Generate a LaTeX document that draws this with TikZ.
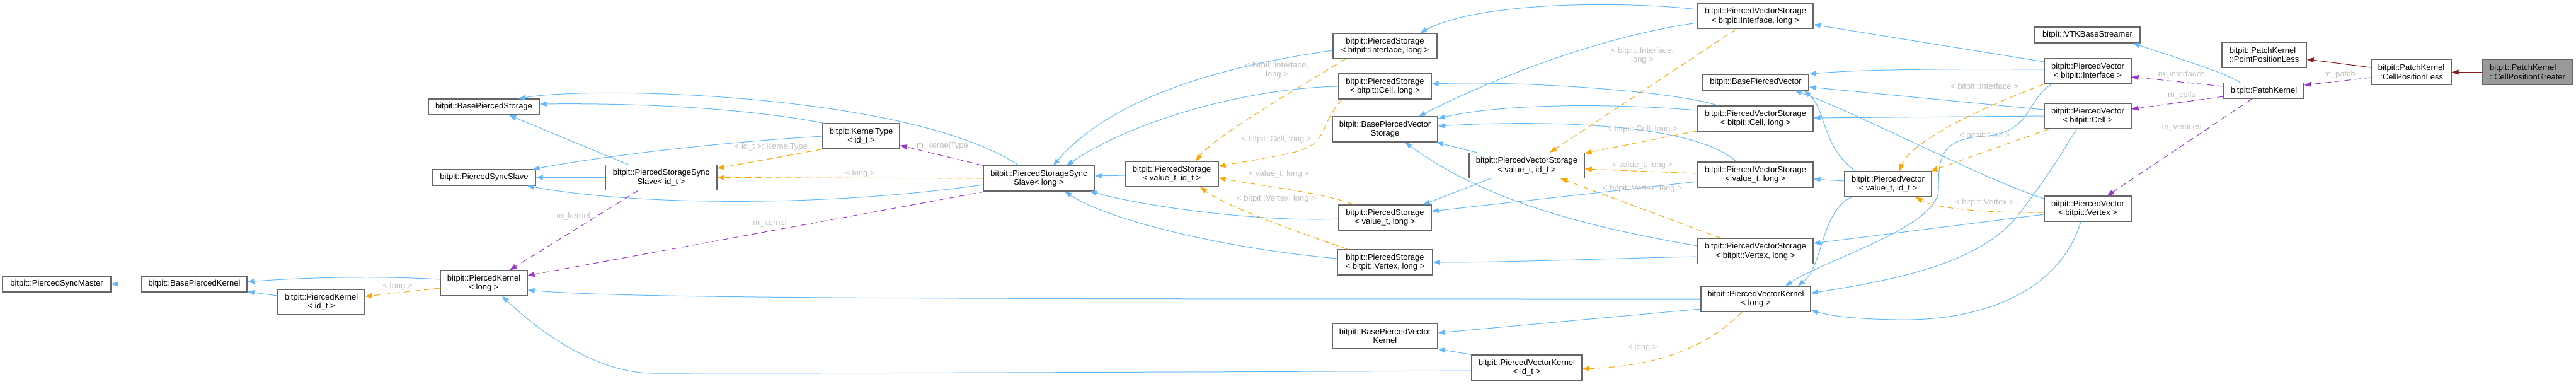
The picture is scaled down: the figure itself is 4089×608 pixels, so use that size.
\documentclass[tikz,border=0pt]{standalone}
\usepackage{fontspec}
\setmainfont{Liberation Sans}
\usetikzlibrary{arrows.meta,calc}

\definecolor{nodeborder}{HTML}{666666}
\definecolor{nodehilite}{HTML}{999999}
\definecolor{inherit}{HTML}{63B8FF}
\definecolor{templ}{HTML}{FFA500}
\definecolor{usage}{HTML}{9A32CD}
\definecolor{privinh}{HTML}{8B1A1A}
\definecolor{edgelabel}{HTML}{BEBEBE}

\tikzset{every picture/.style={line width=1pt},
  cls/.style={draw=nodeborder, fill=white, line width=1.2pt, inner sep=0pt,
    align=center, minimum height=25pt, font=\fontsize{13}{14.3}\selectfont},
  two/.style={minimum height=40pt},
  lbl/.style={inner sep=0pt, align=center, text=edgelabel, font=\fontsize{13}{14.3}\selectfont},
  tip/.style={-{Triangle[length=11pt,width=8pt]}},
  inh/.style={draw=inherit, tip},
  priv/.style={draw=privinh, tip},
  tmpl/.style={draw=templ, dash pattern=on 10pt off 6pt, tip},
  use/.style={draw=usage, dash pattern=on 10pt off 6pt, tip}}

\begin{document}
\begin{tikzpicture}[x=1pt,y=1pt,yscale=-1,xscale=1]
\useasboundingbox (0,0) rectangle (4089,608);

% kernels and sync classes
\node [cls, minimum width=172pt] (psm) at (90,450.5) {bitpit::PiercedSyncMaster};
\node [cls, minimum width=167pt] (bpk) at (308.5,450.5) {bitpit::BasePiercedKernel};
\node [cls, two, minimum width=138pt] (pkid) at (510,479) {bitpit::PiercedKernel\\< id\_t >};
\node [cls, minimum width=176pt] (bps) at (768,169.5) {bitpit::BasePiercedStorage};
\node [cls, minimum width=163pt] (pss) at (768.5,281.5) {bitpit::PiercedSyncSlave};
\node [cls, two, minimum width=138pt] (pkl) at (768,449) {bitpit::PiercedKernel\\< long >};
\node [cls, two, minimum width=177pt] (pssid) at (1049.5,281.5) {bitpit::PiercedStorageSync\\Slave< id\_t >};
\node [cls, two, minimum width=122pt] (kt) at (1367,216) {bitpit::KernelType\\< id\_t >};
\node [cls, two, minimum width=176pt] (pssl) at (1649,283) {bitpit::PiercedStorageSync\\Slave< long >};
\node [cls, two, minimum width=148pt] (psvid) at (1860,276) {bitpit::PiercedStorage\\< value\_t, id\_t >};

% storages
\node [cls, two, minimum width=165pt] (psi) at (2198.5,73) {bitpit::PiercedStorage\\< bitpit::Interface, long >};
\node [cls, two, minimum width=147pt] (psc) at (2198.5,137) {bitpit::PiercedStorage\\< bitpit::Cell, long >};
\node [cls, two, minimum width=167pt] (bpvs) at (2198.5,205) {bitpit::BasePiercedVector\\Storage};
\node [cls, two, minimum width=147pt] (psvl) at (2198.5,345) {bitpit::PiercedStorage\\< value\_t, long >};
\node [cls, two, minimum width=151pt] (psv) at (2198.5,416) {bitpit::PiercedStorage\\< bitpit::Vertex, long >};
\node [cls, two, minimum width=167pt] (bpvk) at (2198.5,533) {bitpit::BasePiercedVector\\Kernel};
\node [cls, two, minimum width=183pt] (pvsvid) at (2423.5,262.5) {bitpit::PiercedVectorStorage\\< value\_t, id\_t >};
\node [cls, two, minimum width=175pt] (pvkid) at (2423.5,583) {bitpit::PiercedVectorKernel\\< id\_t >};
\node [cls, two, minimum width=183pt] (pvsi) at (2786.5,25.5) {bitpit::PiercedVectorStorage\\< bitpit::Interface, long >};
\node [cls, minimum width=168pt] (bpv) at (2787,130.5) {bitpit::BasePiercedVector};
\node [cls, two, minimum width=183pt] (pvsc) at (2786.5,188) {bitpit::PiercedVectorStorage\\< bitpit::Cell, long >};
\node [cls, two, minimum width=183pt] (pvsvl) at (2786.5,277) {bitpit::PiercedVectorStorage\\< value\_t, long >};
\node [cls, two, minimum width=183pt] (pvsv) at (2786.5,398.5) {bitpit::PiercedVectorStorage\\< bitpit::Vertex, long >};
\node [cls, two, minimum width=174pt] (pvkl) at (2787,474) {bitpit::PiercedVectorKernel\\< long >};

% vectors and patch
\node [cls, two, minimum width=138pt] (pvvid) at (2997,292) {bitpit::PiercedVector\\< value\_t, id\_t >};
\node [cls, minimum width=167pt] (vtk) at (3313.5,55.5) {bitpit::VTKBaseStreamer};
\node [cls, two, minimum width=138pt] (pvi) at (3314,113) {bitpit::PiercedVector\\< bitpit::Interface >};
\node [cls, two, minimum width=138pt] (pvc) at (3314,184) {bitpit::PiercedVector\\< bitpit::Cell >};
\node [cls, two, minimum width=138pt] (pvv) at (3314,331) {bitpit::PiercedVector\\< bitpit::Vertex >};
\node [cls, two, align=left, minimum width=134pt] (ppl) at (3594,87) {bitpit::PatchKernel\\::PointPositionLess};
\node [cls, minimum width=127pt] (pk) at (3593.5,144) {bitpit::PatchKernel};
\node [cls, two, align=left, minimum width=127pt] (cpl) at (3827.5,114.5) {bitpit::PatchKernel\\::CellPositionLess};
\node [cls, two, align=left, fill=nodehilite, minimum width=144pt] (cpg) at (4012,114.5) {bitpit::PatchKernel\\::CellPositionGreater};

% inheritance
\draw [inh] (bpk.west) -- (psm.east);
\draw [inh] ($(pkid.west)+(0,-10)$) -- ($(bpk.south east)+(0,-1)$);
\draw [inh] ($(pkl.west)+(0,-6)$) .. controls (600,437) and (480,440) .. ($(bpk.east)+(0,-3.5)$);
\draw [inh] ($(pssl.north)+(-32,0)$) .. controls (1450,150) and (950,135) .. ($(bps.north)+(55,0)$);
\draw [inh] ($(kt.north west)+(3,0)$) .. controls (1200,175) and (1050,163) .. ($(bps.east)+(0,-4.5)$);
\draw [inh] ($(pssid.north)+(-52.5,0)$) -- ($(bps.south)+(40,0)$);
\draw [inh] (kt.west) .. controls (1200,222) and (1000,240) .. ($(pss.north east)+(-5,0)$);
\draw [inh] (pssid.west) -- (pss.east);
\draw [inh] ($(pssl.west)+(0,10)$) .. controls (1300,330) and (1000,325) .. ($(pss.south east)+(-14,0)$);
\draw [inh] ($(psvid.west)+(0,2)$) -- ($(pssl.east)+(0,-4)$);
\draw [inh] ($(psi.west)+(0,7)$) .. controls (1900,110) and (1750,170) .. ($(pssl.north)+(23,0)$);
\draw [inh] (psc.west) .. controls (1980,140) and (1800,190) .. ($(pssl.north)+(44,0)$);
\draw [inh] ($(psvl.west)+(0,2)$) .. controls (2030,352) and (1850,335) .. ($(pssl.south)+(81,0)$);
\draw [inh] ($(psv.west)+(0,-6)$) .. controls (1950,395) and (1760,350) .. ($(pssl.south)+(41,0)$);
\draw [inh] ($(pvsi.west)+(0,-10.5)$) .. controls (2560,0) and (2340,5) .. ($(psi.north)+(55.5,0)$);
\draw [inh] ($(pvsi.west)+(0,10.5)$) .. controls (2560,55) and (2400,110) .. ($(bpvs.north)+(53.5,0)$);
\draw [inh] ($(pvsc.north)+(-59.5,0)$) .. controls (2660,145) and (2420,128) .. ($(psc.east)+(0,-4)$);
\draw [inh] ($(pvsc.west)+(0,-13)$) .. controls (2550,163) and (2380,165) .. ($(bpvs.east)+(0,-17)$);
\draw [inh] ($(pvsvl.north)+(-30.5,0)$) .. controls (2690,195) and (2450,190) .. ($(bpvs.east)+(0,-5)$);
\draw [inh] ($(pvsvid.north)+(-79.5,0)$) -- ($(bpvs.south east)+(-3,0)$);
\draw [inh] ($(pvsv.west)+(0,-8.5)$) .. controls (2520,360) and (2360,320) .. ($(bpvs.south)+(31.5,0)$);
\draw [inh] ($(pvsvid.south)+(-57.5,0)$) -- ($(psvl.north)+(60.5,0)$);
\draw [inh] ($(pvsvl.west)+(0,11)$) -- ($(psvl.east)+(0,-10)$);
\draw [inh] ($(pvsv.west)+(0,8.5)$) .. controls (2550,410) and (2400,416) .. (psv.east);
\draw [inh] ($(pvi.west)+(0,-15)$) -- ($(pvsi.east)+(0,13.5)$);
\draw [inh] ($(pvi.west)+(0,-3)$) .. controls (3100,109) and (2950,110) .. (bpv.north east);
\draw [inh] ($(pvc.west)+(0,-10)$) -- ($(bpv.east)+(0,7.5)$);
\draw [inh] (pvc.west) -- ($(pvsc.east)+(0,-1)$);
\draw [inh] ($(pvvid.north)+(-52,0)$) .. controls (2890,230) and (2900,175) .. ($(bpv.south east)+(-8,0)$);
\draw [inh] ($(pvvid.west)+(0,-5)$) -- ($(pvsvl.east)+(0,7)$);
\draw [inh] ($(pvv.west)+(0,-16)$) .. controls (3150,285) and (2950,180) .. ($(bpv.south)+(62,0)$);
\draw [inh] ($(pvv.west)+(0,9)$) -- ($(pvsv.east)+(0,-12.5)$);
\draw [inh] ($(pvi.south)+(-58,0)$) .. controls (3215,160) and (3225,210) .. (3150,216) .. controls (3080,220) and (3077,250) .. (3077,300) .. controls (3077,360) and (2900,410) .. ($(pvkl.north)+(47,0)$);
\draw [inh] ($(pvvid.south)+(-58,0)$) .. controls (2890,335) and (2895,420) .. ($(pvkl.north)+(67,0)$);
\draw [inh] ($(pvc.south)+(-18,0)$) .. controls (3260,265) and (3235,300) .. (3202,343) .. controls (3140,420) and (3000,445) .. ($(pvkl.east)+(0,-9)$);
\draw [inh] ($(pvv.south)+(-11,0)$) .. controls (3270,460) and (3150,510) .. (3010,507) .. controls (2950,506) and (2910,502) .. ($(pvkl.east)+(0,18)$);
\draw [inh] (pvkl.west) .. controls (1500,474) and (1000,474) .. ($(pkl.east)+(0,11)$);
\draw [inh] ($(pvkl.west)+(0,16)$) -- ($(bpvk.east)+(0,-5)$);
\draw [inh] (pvkid.north west) -- (bpvk.south east);
\draw [inh] ($(pvkid.west)+(0,5)$) .. controls (1500,592) and (1150,592) .. (1037,592) .. controls (950,592) and (860,530) .. ($(pkl.south)+(29,0)$);
\draw [inh] ($(pk.north)+(-37.5,0)$) .. controls (3530,115) and (3480,100) .. ($(vtk.south east)+(-12,0)$);
\draw [priv] ($(cpl.west)+(0,-7.5)$) -- ($(ppl.east)+(0,7)$);
\draw [priv] (cpg.west) -- (cpl.east);

% members
\draw [use] ($(pssid.south)+(-36.5,0)$) -- ($(pkl.north)+(41,0)$);
\draw [use] ($(pssl.south west)+(4,0)$) -- ($(pkl.east)+(0,-12)$);
\draw [use] (pssl.north west) -- ($(kt.south east)+(0,-6)$);
\draw [use] ($(pk.west)+(0,-7)$) -- ($(pvi.east)+(0,9)$);
\draw [use] ($(pk.west)+(0,9)$) -- ($(pvc.east)+(0,-11)$);
\draw [use] ($(pk.south)+(-19.5,0)$) -- ($(pvv.north)+(31,0)$);
\draw [use] ($(cpl.west)+(0,8.5)$) -- ($(pk.east)+(0,-9)$);

% template instances
\draw [tmpl] ($(pkl.west)+(0,8)$) -- ($(pkid.east)+(0,-9)$);
\draw [tmpl] (pssl.west) -- (pssid.east);
\draw [tmpl] (kt.south west) -- ($(pssid.north east)+(0,6)$);
\draw [tmpl] ($(psi.south west)+(20,0)$) .. controls (2060,140) and (1930,215) .. ($(psvid.north)+(38,0)$);
\draw [tmpl] ($(psc.south west)+(6,0)$) .. controls (2095,195) and (2110,225) .. (2060,240) .. controls (2020,250) and (1970,257) .. ($(psvid.east)+(0,-12)$);
\draw [tmpl] ($(psvl.north west)+(24,0)$) .. controls (2100,305) and (2000,295) .. ($(psvid.east)+(0,6)$);
\draw [tmpl] ($(psv.north west)+(17,0)$) .. controls (2080,375) and (1950,330) .. ($(psvid.south)+(45,0)$);
\draw [tmpl] ($(pvsi.south)+(-30.5,0)$) -- ($(pvsvid.north)+(36.5,0)$);
\draw [tmpl] ($(pvsc.south west)+(0,-1)$) -- ($(pvsvid.north east)+(0,1)$);
\draw [tmpl] ($(pvsvl.west)+(0,-2)$) -- ($(pvsvid.east)+(0,5.5)$);
\draw [tmpl] ($(pvsv.north)+(-54.5,0)$) -- ($(pvsvid.south)+(53.5,0)$);
\draw [tmpl] (pvi.south west) .. controls (3120,180) and (3030,230) .. ($(pvvid.north)+(18,0)$);
\draw [tmpl] ($(pvc.south west)+(8,0)$) -- ($(pvvid.north east)+(-2,0)$);
\draw [tmpl] ($(pvv.west)+(0,6)$) .. controls (3150,338) and (3070,330) .. ($(pvvid.south)+(44,0)$);
\draw [tmpl] ($(pvkl.south)+(-22,0)$) .. controls (2720,540) and (2650,580) .. ($(pvkid.east)+(0,2)$);

% edge labels
\node [lbl] (lPKlong) at (631,454) {< long >};
\node [lbl] (lPSSlong) at (1365,275) {< long >};
\node [lbl] (lKernelType) at (1224,233) {< id\_t >::KernelType};
\node [lbl] (lmKernelA) at (910,343) {m\_kernel};
\node [lbl] (lmKernelB) at (1222,354) {m\_kernel};
\node [lbl] (lmKernelType) at (1496,231) {m\_kernelType};
\node [lbl] (lPSInterface) at (2027,111) {< bitpit::Interface,\\long >};
\node [lbl] (lPSCell) at (2026,221) {< bitpit::Cell, long >};
\node [lbl] (lPSValue) at (2030,276) {< value\_t, long >};
\node [lbl] (lPSVertex) at (2026,315) {< bitpit::Vertex, long >};
\node [lbl] (lPVSInterface) at (2607,88) {< bitpit::Interface,\\long >};
\node [lbl] (lPVSCell) at (2607,205) {< bitpit::Cell, long >};
\node [lbl] (lPVSValue) at (2607,262) {< value\_t, long >};
\node [lbl] (lPVSVertex) at (2607,299) {< bitpit::Vertex, long >};
\node [lbl] (lPVKlong) at (2607,551) {< long >};
\node [lbl] (lPVInterface) at (3150,138) {< bitpit::Interface >};
\node [lbl] (lPVCell) at (3150,215) {< bitpit::Cell >};
\node [lbl] (lPVVertex) at (3150,321) {< bitpit::Vertex >};
\node [lbl] (lmInterfaces) at (3463,118) {m\_interfaces};
\node [lbl] (lmCells) at (3463,151) {m\_cells};
\node [lbl] (lmVertices) at (3463,202) {m\_vertices};
\node [lbl] (lmPatch) at (3714,118) {m\_patch};

\end{tikzpicture}
\end{document}
